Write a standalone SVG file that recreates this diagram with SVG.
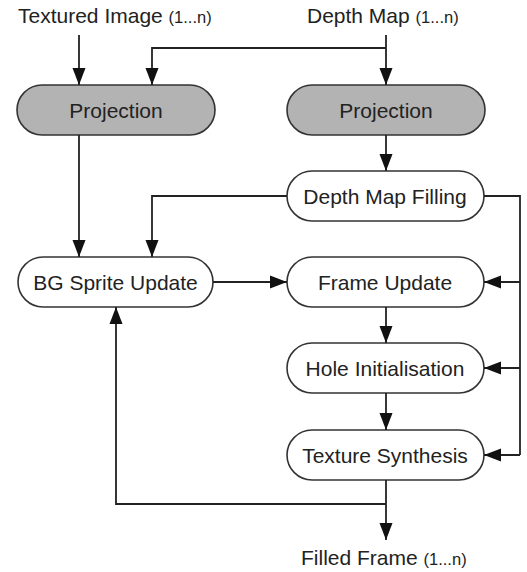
<svg xmlns="http://www.w3.org/2000/svg" width="527" height="572" viewBox="0 0 527 572">
<style>
.box{fill:#fff;stroke:#333;stroke-width:1.6}
.gray{fill:#b3b3b3}
.lbl{font-family:"Liberation Sans",Arial,sans-serif;font-size:21px;fill:#222;text-anchor:middle;dominant-baseline:central}
.io{font-family:"Liberation Sans",Arial,sans-serif;font-size:21px;fill:#222}
.sm{font-size:16.5px}
.ln{fill:none;stroke:#222;stroke-width:1.8}
</style>
<defs>
<marker id="ah" markerUnits="userSpaceOnUse" markerWidth="18" markerHeight="14" refX="17" refY="7" orient="auto">
<path d="M0,0.5 L17,7 L0,13.5 Z" fill="#111"/>
</marker>
</defs>
<rect width="527" height="572" fill="#fff"/>
<g id="inputs">
<text class="io" x="18" y="23">Textured Image <tspan class="sm">(1...n)</tspan></text>
<text class="io" x="307" y="23">Depth Map <tspan class="sm">(1...n)</tspan></text>
</g>
<g id="proj1"><rect class="box gray" x="17" y="85" width="198" height="50" rx="25"/><text class="lbl" x="116" y="110">Projection</text></g>
<g id="proj2"><rect class="box gray" x="287" y="85" width="198" height="50" rx="25"/><text class="lbl" x="386" y="110">Projection</text></g>
<g id="dmf"><rect class="box" x="287" y="171" width="197" height="50" rx="25"/><text class="lbl" x="385" y="196">Depth Map Filling</text></g>
<g id="bg"><rect class="box" x="18" y="257" width="195" height="50" rx="25"/><text class="lbl" x="115.5" y="282">BG Sprite Update</text></g>
<g id="fu"><rect class="box" x="287" y="257" width="197" height="50" rx="25"/><text class="lbl" x="385" y="282">Frame Update</text></g>
<g id="hi"><rect class="box" x="287" y="343" width="197" height="50" rx="25"/><text class="lbl" x="385" y="368">Hole Initialisation</text></g>
<g id="ts"><rect class="box" x="287" y="430" width="197" height="50" rx="25"/><text class="lbl" x="385" y="455">Texture Synthesis</text></g>
<g id="output"><text class="io" x="301" y="565">Filled Frame <tspan class="sm">(1...n)</tspan></text></g>
<g id="connectors">
<path class="ln" d="M79,35 V85" marker-end="url(#ah)"/>
<path class="ln" d="M386,35 V85" marker-end="url(#ah)"/>
<path class="ln" d="M386,48 H152 V85" marker-end="url(#ah)"/>
<path class="ln" d="M79,135 V257" marker-end="url(#ah)"/>
<path class="ln" d="M386,135 V171" marker-end="url(#ah)"/>
<path class="ln" d="M287,196 H152 V257" marker-end="url(#ah)"/>
<path class="ln" d="M484,196 H520 V455"/>
<path class="ln" d="M520,282 H484" marker-end="url(#ah)"/>
<path class="ln" d="M520,368 H484" marker-end="url(#ah)"/>
<path class="ln" d="M520,455 H484" marker-end="url(#ah)"/>
<path class="ln" d="M213,282 H287" marker-end="url(#ah)"/>
<path class="ln" d="M386,307 V343" marker-end="url(#ah)"/>
<path class="ln" d="M386,393 V430" marker-end="url(#ah)"/>
<path class="ln" d="M386,480 V540" marker-end="url(#ah)"/>
<path class="ln" d="M386,504 H116 V307" marker-end="url(#ah)"/>
</g>
</svg>
